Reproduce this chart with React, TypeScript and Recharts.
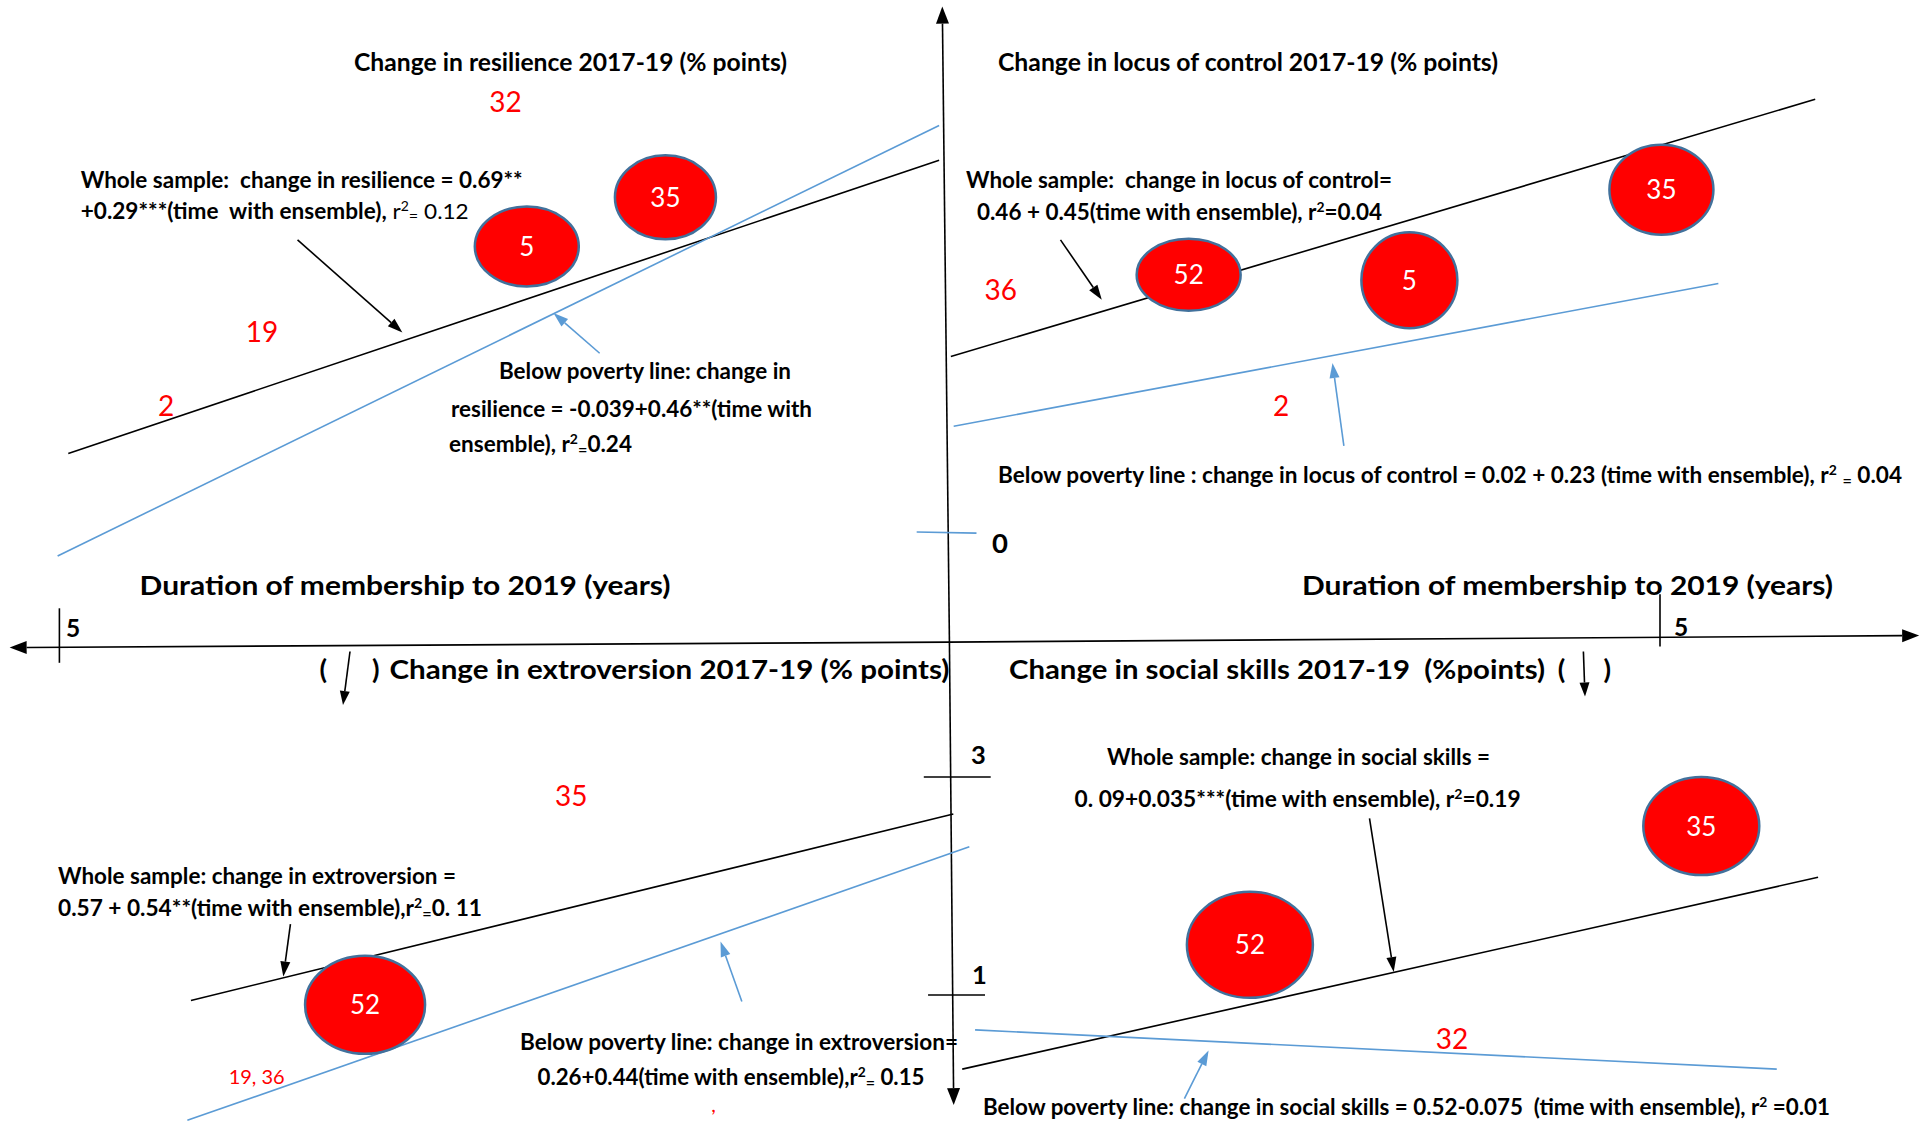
import React from 'react';
import { ScatterChart, Scatter, XAxis, YAxis, ReferenceLine } from 'recharts';

const W = 1921;
const H = 1123;

// where the drawn axes put 0 and 5 years, and the y tick marks (page px)
const ORIGIN_X = 948;
const LEFT_FIVE_X = 59.4;
const RIGHT_FIVE_X = 1660;
const TOP_ZERO_Y = 532;
const BOTTOM_THREE_Y = 777;
const BOTTOM_ONE_Y = 995;

const leftUnit = (ORIGIN_X - LEFT_FIVE_X) / 5;
const rightUnit = (RIGHT_FIVE_X - ORIGIN_X) / 5;
const yUnit = (BOTTOM_ONE_Y - BOTTOM_THREE_Y) / 2;

const leftDomain = [(ORIGIN_X - W) / leftUnit, ORIGIN_X / leftUnit];
const rightDomain = [-ORIGIN_X / rightUnit, (W - ORIGIN_X) / rightUnit];
const topDomain = [(TOP_ZERO_Y - H) / yUnit, TOP_ZERO_Y / yUnit];
const bottomDomain = [3 - (H - BOTTOM_THREE_Y) / yUnit, 3 + BOTTOM_THREE_Y / yUnit];

// ---- resilience (top left, years run to the left)
const resilienceWhole = [{ x: 4.95, y: 0.72 }, { x: 0.05, y: 3.41 }];
const resiliencePoor = [{ x: 5.01, y: -0.22 }, { x: 0.05, y: 3.73 }];
const resilienceBubbles = [
  { x: 2.37, y: 2.62, label: '5' },
  { x: 1.59, y: 3.07, label: '35' },
];
const resilienceIds = [
  { x: 2.49, y: 3.95, label: '32' },
  { x: 3.86, y: 1.84, label: '19' },
  { x: 4.4, y: 1.16, label: '2' },
];

// ---- locus of control (top right)
const locusWhole = [{ x: 0.02, y: 1.61 }, { x: 6.09, y: 3.97 }];
const locusPoor = [{ x: 0.04, y: 0.97 }, { x: 5.41, y: 2.28 }];
const locusBubbles = [
  { x: 1.69, y: 2.36, label: '52' },
  { x: 3.24, y: 2.31, label: '5' },
  { x: 5.01, y: 3.14, label: '35' },
];
const locusIds = [
  { x: 0.37, y: 2.22, label: '36' },
  { x: 2.34, y: 1.16, label: '2' },
];

// ---- extroversion (bottom left)
const extroWhole = [{ x: 4.26, y: 0.95 }, { x: -0.03, y: 2.66 }];
const extroPoor = [{ x: 4.28, y: -0.15 }, { x: -0.12, y: 2.36 }];
const extroBubbles = [{ x: 3.28, y: 0.91, label: '52' }];
const extroIds = [
  { x: 2.12, y: 2.83, label: '35' },
  { x: 3.89, y: 0.25, label: '19, 36' },
  { x: 1.32, y: -0.07, label: ',' },
];

// ---- social skills (bottom right)
const socialWhole = [{ x: 0.1, y: 0.32 }, { x: 6.11, y: 2.08 }];
const socialPoor = [{ x: 0.19, y: 0.68 }, { x: 5.82, y: 0.32 }];
const socialBubbles = [
  { x: 2.12, y: 1.46, label: '52' },
  { x: 5.29, y: 2.55, label: '35' },
];
const socialIds = [{ x: 3.54, y: 0.6, label: '32' }];

// bubble radii (px), by label
const resilienceSize = { '5': [52, 40], '35': [50.5, 42] };
const locusSize = { '52': [52, 36], '5': [48, 48], '35': [52, 45] };
const extroSize = { '52': [60, 49] };
const socialSize = { '52': [63, 53], '35': [58, 49] };

const BLACK = '#000000';
const BLUE = '#5B9BD5';
const RED = '#FF0000';
const FONT = "Lato, 'Open Sans', sans-serif";

// pointer arrows from the equations to the lines
const pointers = [
  { ax: 'l', ay: 'u', color: BLACK, seg: [{ x: 3.66, y: 2.68 }, { x: 3.07, y: 1.83 }] },
  { ax: 'l', ay: 'u', color: BLUE, seg: [{ x: 1.96, y: 1.64 }, { x: 2.22, y: 2.01 }] },
  { ax: 'r', ay: 'u', color: BLACK, seg: [{ x: 0.79, y: 2.68 }, { x: 1.08, y: 2.13 }] },
  { ax: 'r', ay: 'u', color: BLUE, seg: [{ x: 2.78, y: 0.79 }, { x: 2.7, y: 1.55 }] },
  { ax: 'l', ay: 'd', color: BLACK, seg: [{ x: 3.7, y: 1.65 }, { x: 3.74, y: 1.17 }] },
  { ax: 'l', ay: 'd', color: BLUE, seg: [{ x: 1.16, y: 0.94 }, { x: 1.28, y: 1.49 }] },
  { ax: 'r', ay: 'd', color: BLACK, seg: [{ x: 2.96, y: 2.62 }, { x: 3.13, y: 1.21 }] },
  { ax: 'r', ay: 'd', color: BLUE, seg: [{ x: 1.66, y: 0.05 }, { x: 1.83, y: 0.49 }] },
];

const arrowHead = (x1: number, y1: number, x2: number, y2: number, len: number, half: number) => {
  const L = Math.hypot(x2 - x1, y2 - y1) || 1;
  const ux = (x2 - x1) / L;
  const uy = (y2 - y1) / L;
  const bx = x2 - ux * len;
  const by = y2 - uy * len;
  return {
    bx,
    by,
    pts: `${x2},${y2} ${bx - uy * half},${by + ux * half} ${bx + uy * half},${by - ux * half}`,
  };
};

const arrowShape = (color: string, len: number, half: number) => (p: any) => {
  const { x1, y1, x2, y2 } = p;
  const end = arrowHead(x1, y1, x2, y2, len, half);
  return (
    <g>
      <line x1={x1} y1={y1} x2={end.bx} y2={end.by} stroke={color} strokeWidth={1.6} />
      <polygon points={end.pts} fill={color} />
    </g>
  );
};

const bubbleShape = (sizes: any) => (p: any) => {
  const [rx, ry] = sizes[p.payload.label];
  return (
    <g>
      <ellipse cx={p.cx} cy={p.cy} rx={rx} ry={ry} fill={RED} stroke="#41719C" strokeWidth={2.5} />
      <text x={p.cx} y={p.cy + 9.5} textAnchor="middle" fill="#ffffff" fontSize={26} fontFamily={FONT}>
        {p.payload.label}
      </text>
    </g>
  );
};

const smallIds = ['19, 36', ','];
const idShape = (p: any) => {
  const small = smallIds.includes(p.payload.label);
  const fs = small ? 20 : 28;
  const dy = p.payload.label === ',' ? 0 : fs * 0.36;
  return (
    <text x={p.cx} y={p.cy + dy} textAnchor="middle" fill={RED} fontSize={fs} fontFamily={FONT}>
      {p.payload.label}
    </text>
  );
};

type Seg = string | { t: string; sup?: boolean; sub?: boolean; light?: boolean };

const notes: { x: number; y: number; w?: number; fs?: number; segs: Seg[] }[] = [
  { x: 354, y: 71, w: 433, fs: 24, segs: ['Change in resilience 2017-19 (% points)'] },
  { x: 80.7, y: 188, w: 442, segs: ['Whole sample:  change in resilience = 0.69**'] },
  {
    x: 80.7, y: 219, w: 388,
    segs: ['+0.29***(time  with ensemble),', { t: ' r', light: true }, { t: '2', sup: true, light: true }, { t: '=', sub: true, light: true }, { t: ' 0.12', light: true }],
  },
  { x: 499, y: 379, w: 292, segs: ['Below poverty line: change in'] },
  { x: 451, y: 417, w: 361, segs: ['resilience = -0.039+0.46**(time with'] },
  { x: 449, y: 452, w: 183, segs: ['ensemble), r', { t: '2', sup: true }, { t: '=', sub: true }, '0.24'] },

  { x: 998, y: 71, w: 500, fs: 24, segs: ['Change in locus of control 2017-19 (% points)'] },
  { x: 966, y: 188, w: 426, segs: ['Whole sample:  change in locus of control='] },
  { x: 977, y: 220, w: 405, segs: ['0.46 + 0.45(time with ensemble), r', { t: '2', sup: true }, '=0.04'] },
  {
    x: 998, y: 483, w: 904,
    segs: ['Below poverty line : change in locus of control = 0.02 + 0.23 (time with ensemble), r', { t: '2', sup: true }, ' ', { t: '=', sub: true }, ' 0.04'],
  },

  { x: 139.6, y: 595, w: 531, fs: 26.5, segs: ['Duration of membership to 2019 (years)'] },
  { x: 1302, y: 595, w: 531, fs: 26.5, segs: ['Duration of membership to 2019 (years)'] },

  { x: 319.6, y: 679, fs: 27.5, segs: ['('] },
  { x: 372, y: 679, fs: 27.5, segs: [')'] },
  { x: 389.4, y: 679, w: 560, fs: 27.5, segs: ['Change in extroversion 2017-19 (% points)'] },
  { x: 58, y: 884, w: 398, segs: ['Whole sample: change in extroversion ='] },
  { x: 58, y: 915.5, w: 424, segs: ['0.57 + 0.54**(time with ensemble),r', { t: '2', sup: true }, { t: '=', sub: true }, '0. 11'] },
  { x: 520, y: 1050, w: 438, segs: ['Below poverty line: change in extroversion='] },
  { x: 537.5, y: 1085, w: 387, segs: ['0.26+0.44(time with ensemble),r', { t: '2', sup: true }, { t: '=', sub: true }, ' 0.15'] },

  { x: 1009, y: 679, w: 536, fs: 27.5, segs: ['Change in social skills 2017-19  (%points)'] },
  { x: 1557.7, y: 679, fs: 27.5, segs: ['('] },
  { x: 1603.6, y: 679, fs: 27.5, segs: [')'] },
  { x: 1107, y: 765, w: 383, segs: ['Whole sample: change in social skills ='] },
  { x: 1074.6, y: 807, w: 446, segs: ['0. 09+0.035***(time with ensemble), r', { t: '2', sup: true }, '=0.19'] },
  {
    x: 983, y: 1115, w: 847,
    segs: ['Below poverty line: change in social skills = 0.52-0.075  (time with ensemble), r', { t: '2', sup: true }, ' =0.01'],
  },

  // axis tick labels
  { x: 66, y: 636.5, fs: 24.5, segs: ['5'] },
  { x: 1674, y: 636, fs: 24.5, segs: ['5'] },
  { x: 992, y: 553, fs: 27.5, segs: ['0'] },
  { x: 971, y: 764, fs: 25.5, segs: ['3'] },
  { x: 972, y: 984, fs: 25.5, segs: ['1'] },
];

// the little "( ↓ )" arrows inside the lower titles
const titleArrows = [
  [350, 651.5, 343, 705],
  [1583.4, 651.5, 1585, 696.5],
];

const Note = ({ x, y, w, fs = 22, segs }: any) => (
  <text
    x={x}
    y={y}
    fontSize={fs}
    fontWeight={700}
    fontFamily={FONT}
    fill="#000"
    textLength={w}
    lengthAdjust={w ? 'spacingAndGlyphs' : undefined}
    style={{ whiteSpace: 'pre' }}
  >
    {segs.map((s: Seg, i: number) =>
      typeof s === 'string' ? (
        <tspan key={i}>{s}</tspan>
      ) : (
        <tspan
          key={i}
          fontWeight={s.light ? 400 : 700}
          fontSize={s.sup ? fs * 0.62 : s.sub ? fs * 0.72 : fs}
          baselineShift={s.sup ? 'super' : s.sub ? '-18%' : undefined}
        >
          {s.t}
        </tspan>
      )
    )}
  </text>
);

const App = () => {
  const line = (id: string, ax: string, ay: string, seg: any, color: string) => (
    <ReferenceLine key={id} xAxisId={ax} yAxisId={ay} segment={seg} stroke={color} strokeWidth={1.6} ifOverflow="visible" />
  );

  return (
    <div style={{ position: 'absolute', left: 0, top: 0, width: W, height: H, background: '#fff' }}>
      <ScatterChart width={W} height={H} margin={{ top: 0, right: 0, bottom: 0, left: 0 }}>
        <XAxis xAxisId="l" dataKey="x" type="number" domain={leftDomain} reversed allowDataOverflow hide />
        <XAxis xAxisId="r" dataKey="x" type="number" domain={rightDomain} allowDataOverflow hide />
        <YAxis yAxisId="u" dataKey="y" type="number" domain={topDomain} allowDataOverflow hide />
        <YAxis yAxisId="d" dataKey="y" type="number" domain={bottomDomain} allowDataOverflow hide />

        {/* main axes, arrow at the outer ends */}
        <ReferenceLine xAxisId="l" yAxisId="u" segment={[{ x: 0, y: -1.01 }, { x: 5.28, y: -1.06 }]} ifOverflow="visible" shape={arrowShape(BLACK, 17, 6.5)} />
        <ReferenceLine xAxisId="r" yAxisId="u" segment={[{ x: 0, y: -1.01 }, { x: 6.82, y: -0.95 }]} ifOverflow="visible" shape={arrowShape(BLACK, 17, 6.5)} />
        <ReferenceLine xAxisId="r" yAxisId="u" segment={[{ x: 0.01, y: -1.01 }, { x: -0.04, y: 4.82 }]} ifOverflow="visible" shape={arrowShape(BLACK, 17, 6.5)} />
        <ReferenceLine xAxisId="r" yAxisId="d" segment={[{ x: 0.01, y: 4.24 }, { x: 0.04, y: -0.01 }]} ifOverflow="visible" shape={arrowShape(BLACK, 17, 6.5)} />

        {/* tick marks */}
        {line('t5l', 'l', 'u', [{ x: 5, y: -0.7 }, { x: 5, y: -1.2 }], BLACK)}
        {line('t5r', 'r', 'u', [{ x: 5, y: -0.57 }, { x: 5, y: -1.05 }], BLACK)}
        {line('t0', 'r', 'u', [{ x: -0.22, y: 0.0 }, { x: 0.2, y: -0.01 }], BLUE)}
        {line('t3', 'r', 'd', [{ x: -0.17, y: 3 }, { x: 0.3, y: 3 }], BLACK)}
        {line('t1', 'r', 'd', [{ x: -0.14, y: 1 }, { x: 0.26, y: 1 }], BLACK)}

        {/* regression lines */}
        {line('rw', 'l', 'u', resilienceWhole, BLACK)}
        {line('rp', 'l', 'u', resiliencePoor, BLUE)}
        {line('lw', 'r', 'u', locusWhole, BLACK)}
        {line('lp', 'r', 'u', locusPoor, BLUE)}
        {line('ew', 'l', 'd', extroWhole, BLACK)}
        {line('ep', 'l', 'd', extroPoor, BLUE)}
        {line('sw', 'r', 'd', socialWhole, BLACK)}
        {line('sp', 'r', 'd', socialPoor, BLUE)}

        {pointers.map((a, i) => (
          <ReferenceLine key={`p${i}`} xAxisId={a.ax} yAxisId={a.ay} segment={a.seg} ifOverflow="visible" shape={arrowShape(a.color, 15, 5)} />
        ))}

        <Scatter xAxisId="l" yAxisId="u" data={resilienceBubbles} shape={bubbleShape(resilienceSize)} isAnimationActive={false} />
        <Scatter xAxisId="r" yAxisId="u" data={locusBubbles} shape={bubbleShape(locusSize)} isAnimationActive={false} />
        <Scatter xAxisId="l" yAxisId="d" data={extroBubbles} shape={bubbleShape(extroSize)} isAnimationActive={false} />
        <Scatter xAxisId="r" yAxisId="d" data={socialBubbles} shape={bubbleShape(socialSize)} isAnimationActive={false} />

        <Scatter xAxisId="l" yAxisId="u" data={resilienceIds} shape={idShape} isAnimationActive={false} />
        <Scatter xAxisId="r" yAxisId="u" data={locusIds} shape={idShape} isAnimationActive={false} />
        <Scatter xAxisId="l" yAxisId="d" data={extroIds} shape={idShape} isAnimationActive={false} />
        <Scatter xAxisId="r" yAxisId="d" data={socialIds} shape={idShape} isAnimationActive={false} />
      </ScatterChart>

      <svg width={W} height={H} style={{ position: 'absolute', left: 0, top: 0, pointerEvents: 'none' }}>
        {notes.map((n, i) => (
          <Note key={i} {...n} />
        ))}
        {titleArrows.map(([x1, y1, x2, y2], i) => {
          const h = arrowHead(x1, y1, x2, y2, 14, 5);
          return (
            <g key={i}>
              <line x1={x1} y1={y1} x2={h.bx} y2={h.by} stroke={BLACK} strokeWidth={1.6} />
              <polygon points={h.pts} fill={BLACK} />
            </g>
          );
        })}
      </svg>
    </div>
  );
};

export default App;
